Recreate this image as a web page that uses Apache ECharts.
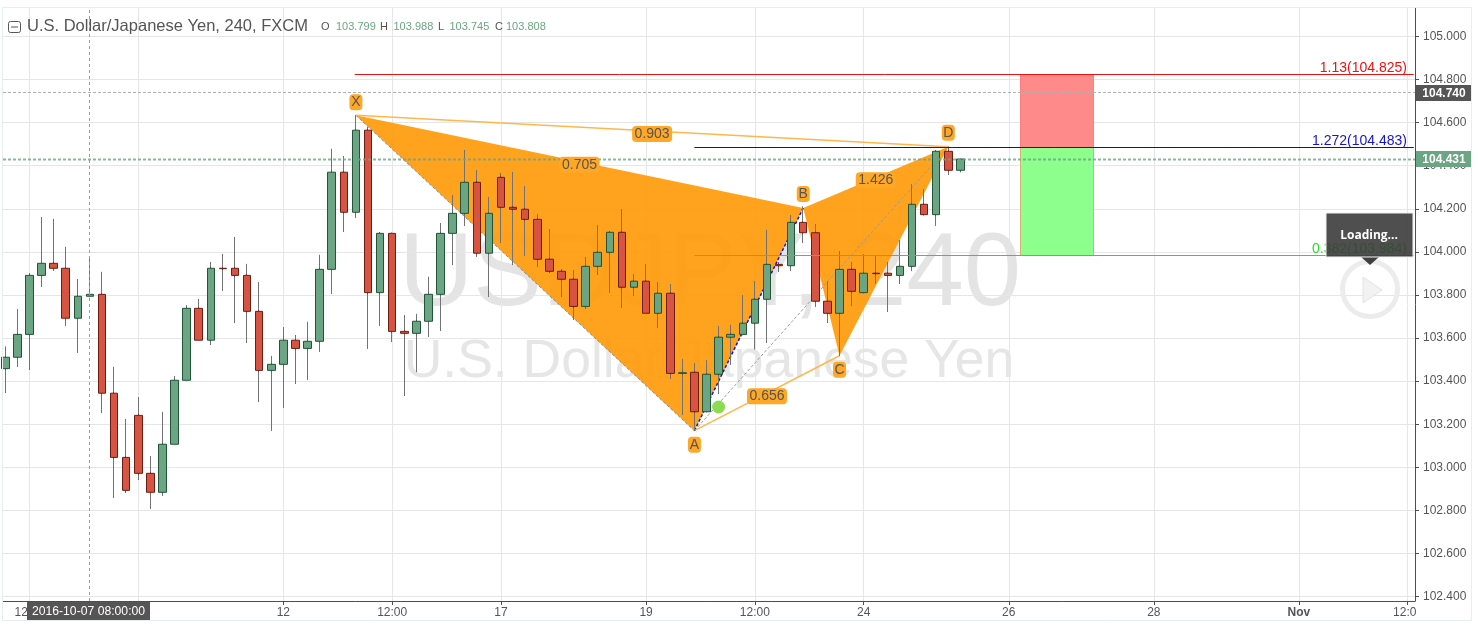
<!DOCTYPE html>
<html><head><meta charset="utf-8">
<style>html,body{margin:0;padding:0;background:#fff}#c{width:1478px;height:631px}</style>
<script src="https://cdn.jsdelivr.net/npm/echarts@6/dist/echarts.min.js"></script>
</head><body><div id="c"></div>
<script>
const opens=[103.458,103.511,103.617,103.891,103.947,103.924,103.692,103.794,103.803,103.344,
103.046,103.241,102.972,102.884,103.107,103.404,103.738,103.590,103.924,103.924,
103.891,103.724,103.450,103.478,103.590,103.552,103.585,103.919,104.370,104.184,
104.565,103.811,104.086,103.631,103.622,103.678,103.803,104.086,104.179,104.323,
103.994,104.346,104.207,104.198,104.151,103.966,103.910,103.873,103.747,103.933,
103.998,104.091,103.836,103.864,103.715,103.808,103.436,103.441,103.258,103.432,
103.604,103.617,103.669,103.780,103.942,103.936,104.137,104.089,103.771,103.715,
103.919,103.811,103.901,103.901,103.891,103.933,104.221,104.173,104.467,104.379];
const closes=[103.511,103.617,103.891,103.947,103.924,103.692,103.794,103.803,103.344,103.046,
102.893,102.972,102.884,103.107,103.404,103.738,103.590,103.924,103.922,103.891,
103.724,103.450,103.478,103.590,103.552,103.585,103.919,104.370,104.184,104.565,
103.811,104.086,103.631,103.622,103.678,103.803,104.086,104.179,104.323,103.994,
104.179,104.207,104.198,104.151,103.966,103.910,103.873,103.747,103.933,103.998,
104.091,103.836,103.864,103.715,103.808,103.436,103.439,103.258,103.432,103.604,
103.617,103.669,103.780,103.942,103.936,104.137,104.089,103.771,103.715,103.919,
103.817,103.901,103.899,103.891,103.933,104.221,104.173,104.467,104.379,104.431];
const lows=[103.346,103.467,103.452,103.838,103.913,103.657,103.532,103.794,103.253,102.859,
102.882,102.942,102.808,102.868,103.107,103.404,103.590,103.569,103.820,103.671,
103.578,103.305,103.170,103.277,103.388,103.407,103.537,103.806,104.094,104.159,
103.551,103.657,103.583,103.332,103.442,103.606,103.634,103.939,104.122,103.978,
103.792,104.043,103.939,103.981,103.931,103.903,103.792,103.684,103.736,103.894,
103.811,103.741,103.797,103.715,103.648,103.411,103.243,103.170,103.258,103.340,
103.475,103.617,103.548,103.578,103.908,103.911,104.043,103.746,103.671,103.518,
103.749,103.808,103.854,103.722,103.851,103.911,104.170,104.122,104.358,104.370];
const highs=[103.560,103.735,103.901,104.162,104.153,104.023,103.874,103.981,103.907,103.466,
103.224,103.326,103.052,103.257,103.424,103.753,103.781,103.952,103.990,104.069,
103.944,103.860,103.517,103.651,103.613,103.675,103.986,104.478,104.445,104.634,
104.580,104.092,104.086,103.707,103.712,103.884,104.133,104.263,104.473,104.380,
104.255,104.365,104.371,104.306,104.176,104.106,103.919,103.915,103.975,104.125,
104.097,104.199,103.897,103.944,103.860,103.851,103.503,103.483,103.498,103.656,
103.661,103.800,103.865,104.102,103.953,104.171,104.210,104.128,103.862,104.004,
103.953,103.990,103.978,103.953,104.055,104.315,104.292,104.472,104.488,104.433];

const timeTickIndex=[2,11,23,32,41,53,62,71,83,95,107,116];
const timeTickLabels=['12:00','','12','12:00','17','19','12:00','24','26','28','Nov','12:0'];
const priceTicks=[102.4,102.6,102.8,103,103.2,103.4,103.6,103.8,104,104.2,104.4,104.6,104.8,105];

const patternNames=['X','A','B','C','D'];
const patternIndex=[29,57,66,69,78];
const patternPrice=[104.634,103.170,104.204,103.518,104.488];
const ratioLegs=[[0,4],[0,2],[2,4],[1,3]];
const ratioLabels=['0.903','0.705','1.426','0.656'];

const fibLabels=['1.13(104.825)','1.272(104.483)','0.382(103.984)'];
const fibPrices=[104.825,104.483,103.984];
const fibStart=[28.9,57,57];
const positionIndex=[84,90];
const lastPrice=104.431, crossPrice=104.740, crossIndex=7;
const dotPoint=[59,103.280];

const xMin=-0.19,xMax=116.6,yMin=102.3793,yMax=105.1323;
const F='"Liberation Sans",Arial,sans-serif';
const candles=opens.map((o,i)=>[i,o,closes[i],lows[i],highs[i]]);
const snap=v=>{const d=Math.round(v*2);return (d+1)%2===0?d/2:(d-1)/2;};
const row=v=>Math.floor(v)+0.5;
const seg=(a,b)=>[[patternIndex[a],patternPrice[a]],[patternIndex[b],patternPrice[b]]];
function line(data,color,width,type,z){
  return {type:'line',data,symbol:'none',silent:true,z,animation:false,
    lineStyle:{color,width,type:type||'solid'}};
}
// straight rules placed through the axis scales, snapped to whole pixels
function rule(x1,y1,x2,y2,color,width,dash,z,opacity){
  return {type:'custom',silent:true,z,data:[[x1,y1,x2,y2]],encode:{x:[0,2],y:[1,3]},
    renderItem:(p,api)=>{
      const a=api.coord([x1,y1]),b=api.coord([x2,y2]);
      const horiz=y1===y2;
      const s=horiz?{x1:a[0],y1:row(a[1]),x2:b[0],y2:row(b[1])}:{x1:snap(a[0]),y1:a[1],x2:snap(b[0]),y2:b[1]};
      const style={stroke:color,lineWidth:width,fill:null};
      if(dash)style.lineDash=dash;
      if(opacity!=null)style.opacity=opacity;
      return {type:'line',shape:s,style};
    }};
}
function tag(cx,cy,txt,w){
  return {type:'group',children:[
    {type:'rect',shape:{x:cx-w/2,y:cy-8,width:w,height:16,r:4},style:{fill:'#ffa726'}},
    {type:'text',style:{x:cx,y:cy,text:txt,fill:'#555',font:'14px '+F,align:'center',verticalAlign:'middle',textAlign:'center',textVerticalAlign:'middle'}}
  ]};
}
const letterOffsets=[[0,-13],[0,14],[0,-14],[0,14],[0,-14]];
const chart=echarts.init(document.getElementById('c'),null,{renderer:'canvas'});
chart.setOption({
 animation:false,
 grid:{left:3,top:8,width:1412,height:593,containLabel:false},
 xAxis:{type:'value',min:xMin,max:xMax,
   axisLine:{onZero:false,lineStyle:{color:'#4e4e4e',width:1}},
   axisTick:{customValues:timeTickIndex,length:4,lineStyle:{color:'#4e4e4e'}},
   splitLine:{show:true,lineStyle:{color:'#e6e6e6',width:1}},
   axisLabel:{customValues:timeTickIndex,margin:6,color:'#555',fontFamily:F,fontSize:12,hideOverlap:false,
     showMinLabel:true,showMaxLabel:true,
     formatter:v=>{const t=timeTickLabels[timeTickIndex.indexOf(v)]||'';
       if(t==='Nov')return '{b|Nov}'; if(t==='12:0')return '{c|12:0}'; return t;},
     rich:{b:{fontWeight:'bold',color:'#555',fontFamily:F,fontSize:12},c:{padding:[0,6,0,0],color:'#555',fontFamily:F,fontSize:12}}}},
 yAxis:{type:'value',position:'right',min:yMin,max:yMax,scale:true,
   axisLine:{show:true,onZero:false,lineStyle:{color:'#4e4e4e',width:1}},
   axisTick:{show:true,customValues:priceTicks,length:4,lineStyle:{color:'#4e4e4e'}},
   splitLine:{show:true,lineStyle:{color:'#e6e6e6',width:1}},
   axisLabel:{customValues:priceTicks,margin:8,padding:[2,0,0,0],color:'#555',fontFamily:F,fontSize:12,hideOverlap:false,formatter:v=>v.toFixed(3)}},
 graphic:{elements:[
   {type:'text',z:-1,silent:true,style:{x:710,y:277,text:'USDJPY, 240',fill:'#e4e4e4',font:'103px '+F,align:'center',verticalAlign:'middle',textAlign:'center',textVerticalAlign:'middle'}},
   {type:'text',z:-1,silent:true,style:{x:709,y:362,text:'U.S. Dollar/Japanese Yen',fill:'#e6e6e6',font:'53.5px '+F,align:'center',verticalAlign:'middle',textAlign:'center',textVerticalAlign:'middle'}},
   {type:'rect',z:50,silent:true,shape:{x:2.5,y:7.5,width:1469,height:613},style:{fill:'none',stroke:'#e8edf0',lineWidth:1}},
   {type:'rect',z:50,silent:true,shape:{x:8.5,y:21.5,width:12,height:11,r:2},style:{fill:'#fff',stroke:'#555',lineWidth:1}},
   {type:'line',z:51,silent:true,shape:{x1:11,y1:27,x2:18,y2:27},style:{stroke:'#555',lineWidth:1}},
   {type:'text',z:50,style:{x:27,y:26.5,text:'U.S. Dollar/Japanese Yen, 240, FXCM',fill:'#555',font:'16.5px '+F,verticalAlign:'middle',textVerticalAlign:'middle'}},
   {type:'text',z:50,style:{x:321,y:26.5,text:'O',fill:'#555',font:'11px '+F,verticalAlign:'middle',textVerticalAlign:'middle'}},
   {type:'text',z:50,style:{x:336,y:26.5,text:'103.799',fill:'#6ba583',font:'11px '+F,verticalAlign:'middle',textVerticalAlign:'middle'}},
   {type:'text',z:50,style:{x:380,y:26.5,text:'H',fill:'#555',font:'11px '+F,verticalAlign:'middle',textVerticalAlign:'middle'}},
   {type:'text',z:50,style:{x:393.5,y:26.5,text:'103.988',fill:'#6ba583',font:'11px '+F,verticalAlign:'middle',textVerticalAlign:'middle'}},
   {type:'text',z:50,style:{x:438,y:26.5,text:'L',fill:'#555',font:'11px '+F,verticalAlign:'middle',textVerticalAlign:'middle'}},
   {type:'text',z:50,style:{x:449.5,y:26.5,text:'103.745',fill:'#6ba583',font:'11px '+F,verticalAlign:'middle',textVerticalAlign:'middle'}},
   {type:'text',z:50,style:{x:495,y:26.5,text:'C',fill:'#555',font:'11px '+F,verticalAlign:'middle',textVerticalAlign:'middle'}},
   {type:'text',z:50,style:{x:506,y:26.5,text:'103.808',fill:'#6ba583',font:'11px '+F,verticalAlign:'middle',textVerticalAlign:'middle'}},
   {type:'rect',z:60,silent:true,shape:{x:27,y:602,width:123,height:18},style:{fill:'#555'}},
   {type:'text',z:61,style:{x:88.5,y:611.5,text:'2016-10-07 08:00:00',fill:'#fff',font:'12.2px '+F,align:'center',verticalAlign:'middle',textAlign:'center',textVerticalAlign:'middle'}},
   {type:'circle',z:40,silent:true,shape:{cx:1370,cy:289,r:27.5},style:{fill:'none',stroke:'#ececec',lineWidth:5}},
   {type:'polygon',z:40,silent:true,shape:{points:[[1363,277],[1363,303],[1382,290]]},style:{fill:'#f2f2f2',stroke:'#e2e2e2'}},
   {type:'polygon',z:60,silent:true,shape:{points:[[1361,257],[1379,257],[1370,265]]},style:{fill:'#404040'}},
   {type:'rect',z:60,silent:true,shape:{x:1326,y:213,width:87,height:44},style:{fill:'rgba(60,60,60,0.9)',stroke:'#f0f0f0',lineWidth:1}},
   {type:'text',z:61,style:{x:1369,y:236,text:'Loading...',fill:'#fff',font:'bold 12px "Open Sans",'+F,align:'center',verticalAlign:'middle',textAlign:'center',textVerticalAlign:'middle'}}
 ]},
 series:[
  {type:'custom',name:'position',z:1,silent:true,data:[[positionIndex[0],fibPrices[0],fibPrices[1]],[positionIndex[0],fibPrices[1],fibPrices[2]]],
   encode:{x:0,y:[1,2]},
   renderItem:(p,api)=>{const a=api.coord([positionIndex[0],api.value(1)]),b=api.coord([positionIndex[1],api.value(2)]);
     const y0=row(a[1]),y1=row(b[1]);
     return {type:'rect',shape:{x:snap(a[0]),y:y0,width:Math.round(b[0]-a[0]),height:y1-y0},
       style:p.dataIndex===0?{fill:'#ff8a8a',stroke:'#ff7f7f'}:{fill:'#8cff8c',stroke:'#d8b070'}};}},
  {type:'custom',name:'harmonic',z:1,silent:true,data:[[0,1,2],[2,3,4]],encode:{x:[],y:[]},
   renderItem:(p,api)=>{const pts=[api.value(0),api.value(1),api.value(2)].map(k=>api.coord([patternIndex[k],patternPrice[k]]));
     return {type:'polygon',shape:{points:pts},style:{fill:'rgba(255,155,12,0.92)'}};}},
  line(seg(0,1),'#8a8a8a',1,[3,2],2),
  line(seg(0,4),'#ffb74d',1.5,null,2),
  line(seg(1,3),'#ffb74d',1.5,null,2),
  line(seg(1,2),'#1414d8',1.5,[3,2],2),
  line(seg(1,4),'#9a9a9a',1,[3,2],2),
  {type:'candlestick',name:'USDJPY',z:3,silent:true,barWidth:8,data:candles,encode:{x:0,y:[1,2,3,4]},
   itemStyle:{color:'#6ba583',color0:'#d75442',borderColor:'#225437',borderColor0:'#6d1e14',borderWidth:1}},
  {type:'custom',name:'wicks',z:4,silent:true,data:candles,encode:{x:0,y:[1,2,3,4]},
   renderItem:(p,api)=>{const i=p.dataIndex,x=snap(api.coord([i,0])[0]);
     const hi=api.coord([i,highs[i]])[1],lo=api.coord([i,lows[i]])[1],
       top=api.coord([i,Math.max(opens[i],closes[i])])[1],bot=api.coord([i,Math.min(opens[i],closes[i])])[1];
     const st={stroke:'#737375',lineWidth:1};
     return {type:'group',children:[
       {type:'line',shape:{x1:x,y1:hi,x2:x,y2:top-1},style:st},
       {type:'line',shape:{x1:x,y1:bot+1,x2:x,y2:lo},style:st}]};}},
  rule(crossIndex,yMin,crossIndex,yMax,'#9b9b9b',1,[3,3],5),
  rule(xMin,crossPrice,xMax,crossPrice,'#b0b0b0',1,[3,2],5),
  rule(xMin,lastPrice,xMax,lastPrice,'#6ba583',2,[3,2],5,0.8),
  rule(fibStart[0],fibPrices[0],116.5,fibPrices[0],'#f01010',1,null,5),
  rule(fibStart[1],fibPrices[1],116.5,fibPrices[1],'#0a0ad0',1,null,5),
  rule(fibStart[2],fibPrices[2],116.5,fibPrices[2],'#22e022',1,null,5),
  {type:'scatter',name:'dot',z:6,silent:true,data:[dotPoint],symbolSize:13,itemStyle:{color:'#8ddb4e',opacity:1}},
  {type:'custom',name:'fibLabels',z:6,silent:true,data:fibPrices.map(v=>[116,v]),encode:{x:0,y:1},
   renderItem:(p,api)=>{const c=api.coord([api.value(0),api.value(1)]);
     return {type:'text',style:{x:1407,y:c[1]-6.5,text:fibLabels[p.dataIndex],fill:['#f01010','#1414d8','#22e022'][p.dataIndex],font:'14px '+F,align:'right',verticalAlign:'middle',textAlign:'right',textVerticalAlign:'middle'}};}},
  {type:'custom',name:'letters',z:7,silent:true,data:patternIndex.map((x,i)=>[x,patternPrice[i]]),encode:{x:0,y:1},
   renderItem:(p,api)=>{const c=api.coord([api.value(0),api.value(1)]),o=letterOffsets[p.dataIndex];
     return tag(c[0]+o[0],c[1]+o[1],patternNames[p.dataIndex],13);}},
  {type:'custom',name:'ratios',z:7,silent:true,data:ratioLegs.map((l,i)=>[(patternIndex[l[0]]+patternIndex[l[1]])/2,(patternPrice[l[0]]+patternPrice[l[1]])/2]),encode:{x:0,y:1},
   renderItem:(p,api)=>{const c=api.coord([api.value(0),api.value(1)]);
     return tag(c[0],c[1]+3,ratioLabels[p.dataIndex],40);}},
  {type:'custom',name:'priceTags',z:30,silent:true,data:[[xMax,crossPrice],[xMax,lastPrice]],encode:{x:0,y:1},
   renderItem:(p,api)=>{const c=api.coord([api.value(0),api.value(1)]);
     return {type:'group',children:[
       {type:'rect',shape:{x:1416,y:Math.round(c[1])-8,width:55,height:16},style:{fill:p.dataIndex===0?'#555':'#6ba583'}},
       {type:'text',style:{x:1444,y:Math.round(c[1])+0.5,text:api.value(1).toFixed(3),fill:'#fff',font:'bold 12px '+F,align:'center',verticalAlign:'middle',textAlign:'center',textVerticalAlign:'middle'}}]};}}
 ]
});
</script></body></html>
